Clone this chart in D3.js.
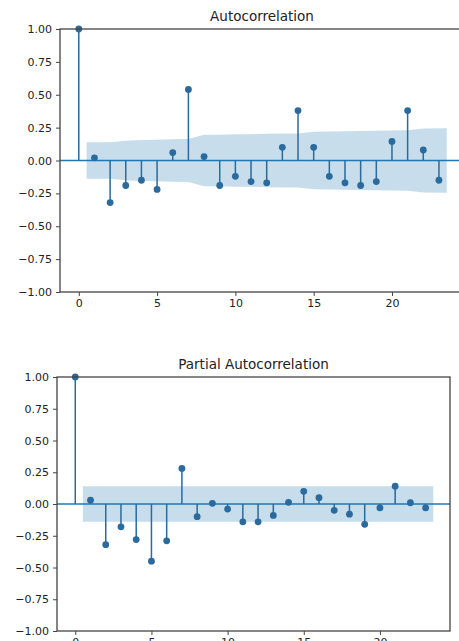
<!DOCTYPE html>
<html>
<head>
<meta charset="utf-8">
<script src="https://cdn.jsdelivr.net/npm/d3@7"></script>
<style>
  body { margin: 0; background: #fff; }
  svg { display: block; font-family: "DejaVu Sans", sans-serif; }
  .tick text { fill: #222; }
</style>
</head>
<body>
<svg id="chart" width="459" height="641"></svg>
<script>
// lags shown on both plots
const lags = [0,1,2,3,4,5,6,7,8,9,10,11,12,13,14,15,16,17,18,19,20,21,22,23];

// autocorrelation
const acfValues = [1.00, 0.02, -0.32, -0.19, -0.15, -0.22, 0.06, 0.54, 0.03, -0.19, -0.12, -0.16,
  -0.17, 0.10, 0.38, 0.10, -0.12, -0.17, -0.19, -0.16, 0.145, 0.38, 0.08, -0.15];
// half width of the confidence band, lags 1..23
const acfBand = [0.138, 0.138, 0.150, 0.155, 0.158, 0.162, 0.164, 0.196, 0.196, 0.199, 0.200, 0.203,
  0.205, 0.206, 0.219, 0.220, 0.222, 0.224, 0.227, 0.229, 0.230, 0.243, 0.245];

// partial autocorrelation
const pacfValues = [1.00, 0.03, -0.32, -0.18, -0.28, -0.45, -0.29, 0.28, -0.10, 0.005, -0.04, -0.14,
  -0.14, -0.09, 0.013, 0.10, 0.05, -0.05, -0.08, -0.16, -0.03, 0.14, 0.01, -0.03];
const pacfBand = 0.14;

const yTicks = [-1, -0.75, -0.5, -0.25, 0, 0.25, 0.5, 0.75, 1];
const xTicks = [0, 5, 10, 15, 20];

const blue = "#1f77b4";
const svg = d3.select("#chart");

function fmt(v) {
  return d3.format(".2f")(v).replace("-", "\u2212");
}

function drawPanel(title, values, band, box) {
  let x = d3.scaleLinear().domain([-1.2, 24.6]).range([box.left, box.right]);
  let y = d3.scaleLinear().domain([-1, 1]).range([box.bottom, box.top]);
  let g = svg.append("g");

  // confidence band: first lag pulled back half a step, last pushed half a step
  let bandPts = lags.slice(1).map((l, i) => {
    let xl = l;
    if (i === 0) xl = l - 0.5;
    if (i === lags.length - 2) xl = l + 0.5;
    let h = Array.isArray(band) ? band[i] : band;
    return { x: xl, h: h };
  });
  let area = d3.area()
    .x(d => x(d.x))
    .y0(d => y(-d.h))
    .y1(d => y(d.h));
  g.append("path").datum(bandPts)
    .attr("d", area)
    .attr("fill", blue)
    .attr("fill-opacity", 0.25);

  // zero line
  g.append("line")
    .attr("x1", box.left).attr("x2", box.right)
    .attr("y1", y(0)).attr("y2", y(0))
    .attr("stroke", blue).attr("stroke-width", 1.4);

  // stems
  g.selectAll(".stem").data(lags).enter().append("line")
    .attr("class", "stem")
    .attr("x1", d => x(d)).attr("x2", d => x(d))
    .attr("y1", y(0)).attr("y2", (d, i) => y(values[i]))
    .attr("stroke", "#2a6a9c").attr("stroke-width", 1.5);

  // markers
  g.selectAll(".dot").data(lags).enter().append("circle")
    .attr("class", "dot")
    .attr("cx", d => x(d)).attr("cy", (d, i) => y(values[i]))
    .attr("r", 3.4)
    .attr("fill", "#2a6a9c");

  // frame
  g.append("rect")
    .attr("x", box.left).attr("y", box.top)
    .attr("width", box.right - box.left).attr("height", box.bottom - box.top)
    .attr("fill", "none").attr("stroke", "#444").attr("stroke-width", 1.3);

  let yAxis = d3.axisLeft(y).tickValues(yTicks).tickFormat(fmt).tickSize(4).tickPadding(4);
  let ya = g.append("g").attr("transform", `translate(${box.left},0)`).call(yAxis);
  let xAxis = d3.axisBottom(x).tickValues(xTicks).tickSize(4).tickPadding(3);
  let xa = g.append("g").attr("transform", `translate(0,${box.bottom})`).call(xAxis);
  [ya, xa].forEach(a => {
    a.select(".domain").remove();
    a.selectAll(".tick line").attr("stroke", "#444");
    a.selectAll(".tick text").attr("font-size", 11).attr("font-family", "DejaVu Sans, sans-serif");
  });

  g.append("text")
    .attr("x", (box.left + box.right) / 2)
    .attr("y", box.top - 8)
    .attr("text-anchor", "middle")
    .attr("font-size", 13.5)
    .attr("fill", "#222")
    .text(title);
}

drawPanel("Autocorrelation", acfValues, acfBand, { left: 60, right: 464, top: 29, bottom: 292 });
drawPanel("Partial Autocorrelation", pacfValues, pacfBand, { left: 57, right: 450, top: 377, bottom: 631 });
</script>
</body>
</html>
